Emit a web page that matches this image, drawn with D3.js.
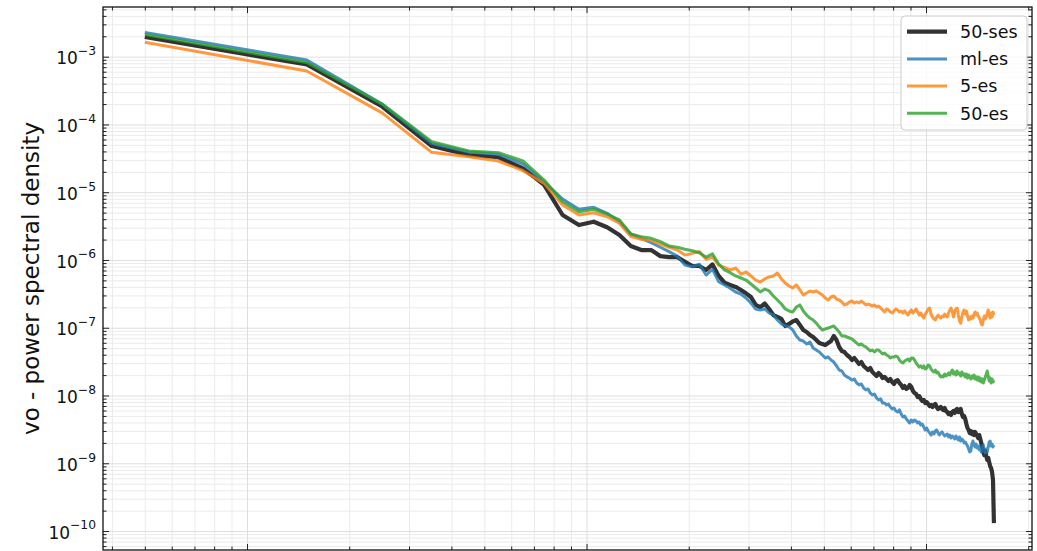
<!DOCTYPE html>
<html>
<head>
<meta charset="utf-8">
<script src="https://cdn.jsdelivr.net/npm/d3@7"></script>
<style>
  body { margin: 0; background: #fff; }
  svg { display: block; font-family: "DejaVu Sans", sans-serif; }
</style>
</head>
<body>
<svg id="chart" width="1037" height="551"></svg>
<script>
// Wavenumber bin centres
const wavenumber = [
  0.5, 1.5, 2.5, 3.5, 4.5, 5.5, 6.5, 7.5, 8.5, 9.5,
  10.5, 11.5, 12.5, 13.5, 14.5, 15.5, 16.5, 17.5, 18.5, 19.5,
  20.5, 21.5, 22.5, 23.5, 24.5, 25.5, 26.5, 27.5, 28.5, 29.5,
  30.5, 31.5, 32.5, 33.5, 34.5, 35.5, 36.5, 37.5, 38.5, 39.5,
  40.5, 41.5, 42.5, 43.5, 44.5, 45.5, 46.5, 47.5, 48.5, 49.5,
  50.5, 51.5, 52.5, 53.5, 54.5, 55.5, 56.5, 57.5, 58.5, 59.5,
  60.5, 61.5, 62.5, 63.5, 64.5, 65.5, 66.5, 67.5, 68.5, 69.5,
  70.5, 71.5, 72.5, 73.5, 74.5, 75.5, 76.5, 77.5, 78.5, 79.5,
  80.5, 81.5, 82.5, 83.5, 84.5, 85.5, 86.5, 87.5, 88.5, 89.5,
  90.5, 91.5, 92.5, 93.5, 94.5, 95.5, 96.5, 97.5, 98.5, 99.5,
  100.5, 101.5, 102.5, 103.5, 104.5, 105.5, 106.5, 107.5, 108.5, 109.5,
  110.5, 111.5, 112.5, 113.5, 114.5, 115.5, 116.5, 117.5, 118.5, 119.5,
  120.5, 121.5, 122.5, 123.5, 124.5, 125.5, 126.5, 127.5, 128.5, 129.5,
  130.5, 131.5, 132.5, 133.5, 134.5, 135.5, 136.5, 137.5, 138.5, 139.5,
  140.5, 141.5, 142.5, 143.5, 144.5, 145.5, 146.5, 147.5, 148.5, 149.5,
  150.5, 151.5, 152.5, 153.5, 154.5, 155.5, 156.5, 157.5, 158.5
];

// Power spectral density of vo, one array per experiment
const psd50ses = [
  1.95e-3, 7.68e-4, 1.84e-4, 4.81e-5, 3.54e-5, 3.28e-5, 2.25e-5, 1.28e-5, 4.61e-6, 3.28e-6,
  3.67e-6, 3.04e-6, 2.34e-6, 1.61e-6, 1.40e-6, 1.40e-6, 1.14e-6, 1.10e-6, 1.10e-6, 9.43e-7,
  8.15e-7, 8.15e-7, 7.12e-7, 8.6e-7, 5.81e-7, 4.62e-7, 4.28e-7, 4.0e-7, 3.61e-7, 3.22e-7,
  2.84e-7, 2.17e-7, 2.02e-7, 2.28e-7, 1.89e-7, 1.54e-7, 1.44e-7, 1.35e-7, 1.06e-7, 1.14e-7,
  1.24e-7, 1.30e-7, 1.10e-7, 9.27e-8, 8.67e-8, 7.82e-8, 7.3e-8, 6.6e-8, 5.95e-8, 5.76e-8,
  5.56e-8, 5.95e-8, 6.37e-8, 7.55e-8, 6.6e-8, 5.2e-8, 4.54e-8, 4.38e-8, 3.96e-8, 3.70e-8,
  3.34e-8, 3.58e-8, 3.23e-8, 2.92e-8, 3.12e-8, 2.73e-8, 2.55e-8, 2.38e-8, 2.55e-8, 2.22e-8,
  2.08e-8, 1.94e-8, 2.15e-8, 2.01e-8, 1.81e-8, 1.88e-8, 1.75e-8, 1.64e-8, 1.75e-8, 1.58e-8,
  1.48e-8, 1.64e-8, 1.69e-8, 1.53e-8, 1.43e-8, 1.29e-8, 1.38e-8, 1.25e-8, 1.29e-8, 1.43e-8,
  1.34e-8, 1.17e-8, 1.09e-8, 1.05e-8, 9.5e-9, 9.8e-9, 8.9e-9, 8.3e-9, 8.6e-9, 7.75e-9,
  8.0e-9, 7.5e-9, 7.0e-9, 7.25e-9, 6.77e-9, 7.25e-9, 7.5e-9, 6.77e-9, 6.33e-9, 6.55e-9,
  6.77e-9, 6.33e-9, 6.12e-9, 6.55e-9, 5.91e-9, 5.71e-9, 5.33e-9, 5.52e-9, 5.16e-9, 5.71e-9,
  5.91e-9, 5.52e-9, 6.12e-9, 6.33e-9, 5.71e-9, 6.12e-9, 6.33e-9, 5.33e-9, 4.82e-9, 4.98e-9,
  4.5e-9, 3.8e-9, 3.31e-9, 3.1e-9, 2.8e-9, 2.99e-9, 2.7e-9, 2.9e-9, 2.61e-9, 2.9e-9,
  2.7e-9, 2.53e-9, 2.36e-9, 2.61e-9, 2.28e-9, 1.99e-9, 1.68e-9, 1.47e-9, 1.32e-9, 1.52e-9,
  1.28e-9, 1.12e-9, 1.2e-9, 1.04e-9, 9.1e-10, 8.5e-10, 7.43e-10, 5.66e-10, 1.31e-10
];

const psdMlEs = [
  2.28e-3, 8.94e-4, 2.0e-4, 5.24e-5, 3.92e-5, 3.63e-5, 2.61e-5, 1.42e-5, 7.94e-6, 5.6e-6,
  6.0e-6, 4.88e-6, 3.67e-6, 2.42e-6, 2.09e-6, 1.80e-6, 1.54e-6, 1.33e-6, 1.14e-6, 8.4e-7,
  7.95e-7, 8.65e-7, 6.0e-7, 7.3e-7, 4.78e-7, 4.28e-7, 3.82e-7, 3.37e-7, 3.15e-7, 2.75e-7,
  2.32e-7, 1.89e-7, 1.83e-7, 1.89e-7, 1.65e-7, 1.54e-7, 1.30e-7, 1.14e-7, 1.06e-7, 1.03e-7,
  9.27e-8, 7.55e-8, 6.6e-8, 6.37e-8, 5.76e-8, 6.16e-8, 5.02e-8, 4.69e-8, 4.38e-8, 3.96e-8,
  3.58e-8, 3.70e-8, 3.34e-8, 3.12e-8, 2.73e-8, 2.38e-8, 2.30e-8, 2.01e-8, 1.88e-8, 1.81e-8,
  1.69e-8, 1.75e-8, 1.53e-8, 1.43e-8, 1.48e-8, 1.29e-8, 1.21e-8, 1.25e-8, 1.09e-8, 1.02e-8,
  1.05e-8, 9.2e-9, 8.6e-9, 8.9e-9, 7.75e-9, 7.75e-9, 7.25e-9, 7.5e-9, 6.77e-9, 6.33e-9,
  6.55e-9, 5.91e-9, 5.71e-9, 6.12e-9, 5.33e-9, 4.82e-9, 4.98e-9, 4.5e-9, 4.21e-9, 3.93e-9,
  4.35e-9, 4.07e-9, 4.35e-9, 4.21e-9, 3.93e-9, 4.07e-9, 3.67e-9, 3.8e-9, 3.43e-9, 3.1e-9,
  3.31e-9, 2.99e-9, 2.8e-9, 2.61e-9, 2.9e-9, 2.7e-9, 2.99e-9, 3.1e-9, 2.8e-9, 2.61e-9,
  2.8e-9, 2.9e-9, 2.7e-9, 2.53e-9, 2.61e-9, 2.7e-9, 2.44e-9, 2.61e-9, 2.36e-9, 2.53e-9,
  2.44e-9, 2.28e-9, 2.53e-9, 2.36e-9, 2.2e-9, 2.44e-9, 2.13e-9, 2.28e-9, 2.2e-9, 1.99e-9,
  2.06e-9, 1.92e-9, 1.80e-9, 1.62e-9, 1.47e-9, 1.52e-9, 1.92e-9, 2.13e-9, 1.86e-9, 1.74e-9,
  1.92e-9, 1.68e-9, 1.80e-9, 1.57e-9, 1.74e-9, 1.47e-9, 1.68e-9, 1.86e-9, 1.57e-9, 1.42e-9,
  1.62e-9, 1.47e-9, 1.74e-9, 2.06e-9, 2.13e-9, 1.80e-9, 1.92e-9, 1.74e-9, 1.86e-9
];

const psd5es = [
  1.63e-3, 6.15e-4, 1.48e-4, 3.88e-5, 3.34e-5, 2.89e-5, 2.08e-5, 1.35e-5, 6.47e-6, 4.61e-6,
  4.98e-6, 4.35e-6, 3.48e-6, 2.21e-6, 2.02e-6, 1.93e-6, 1.72e-6, 1.54e-6, 1.40e-6, 1.18e-6,
  1.25e-6, 1.33e-6, 1.02e-6, 1.10e-6, 8.4e-7, 7.8e-7, 7.12e-7, 7.6e-7, 6.2e-7, 6.64e-7,
  5.81e-7, 5.06e-7, 4.73e-7, 5.25e-7, 5.62e-7, 5.81e-7, 6.42e-7, 5.25e-7, 4.57e-7, 4.13e-7,
  3.86e-7, 4.28e-7, 3.61e-7, 3.04e-7, 3.26e-7, 3.49e-7, 3.37e-7, 3.49e-7, 3.26e-7, 3.04e-7,
  2.75e-7, 2.57e-7, 2.84e-7, 2.94e-7, 2.65e-7, 2.57e-7, 2.40e-7, 2.17e-7, 2.24e-7, 2.40e-7,
  2.48e-7, 2.32e-7, 2.40e-7, 2.32e-7, 2.48e-7, 2.32e-7, 2.17e-7, 2.24e-7, 2.17e-7, 2.09e-7,
  2.17e-7, 2.02e-7, 2.09e-7, 1.95e-7, 1.83e-7, 1.71e-7, 1.89e-7, 1.83e-7, 1.71e-7, 1.65e-7,
  1.77e-7, 1.89e-7, 1.83e-7, 1.71e-7, 1.77e-7, 1.65e-7, 1.77e-7, 1.65e-7, 1.54e-7, 1.71e-7,
  1.83e-7, 1.65e-7, 1.77e-7, 1.89e-7, 1.71e-7, 1.54e-7, 1.65e-7, 1.49e-7, 1.39e-7, 1.59e-7,
  1.71e-7, 1.89e-7, 1.95e-7, 1.59e-7, 1.44e-7, 1.35e-7, 1.30e-7, 1.44e-7, 1.54e-7, 1.44e-7,
  1.39e-7, 1.49e-7, 1.44e-7, 1.59e-7, 1.49e-7, 1.44e-7, 1.65e-7, 1.83e-7, 1.95e-7, 1.71e-7,
  1.44e-7, 1.77e-7, 1.89e-7, 1.95e-7, 1.54e-7, 1.26e-7, 1.17e-7, 1.44e-7, 1.71e-7, 1.83e-7,
  1.59e-7, 1.77e-7, 1.49e-7, 1.30e-7, 1.44e-7, 1.35e-7, 1.49e-7, 1.39e-7, 1.59e-7, 1.71e-7,
  1.54e-7, 1.65e-7, 1.49e-7, 1.39e-7, 1.30e-7, 1.14e-7, 1.10e-7, 1.30e-7, 1.49e-7, 1.35e-7,
  1.44e-7, 1.65e-7, 1.83e-7, 1.54e-7, 1.39e-7, 1.65e-7, 1.44e-7, 1.71e-7, 1.54e-7
];

const psd50es = [
  2.13e-3, 8.2e-4, 2.0e-4, 5.57e-5, 4.06e-5, 3.83e-5, 2.89e-5, 1.51e-5, 7.25e-6, 5.16e-6,
  5.6e-6, 4.77e-6, 3.9e-6, 2.42e-6, 2.21e-6, 2.09e-6, 1.86e-6, 1.61e-6, 1.54e-6, 1.44e-6,
  1.37e-6, 1.28e-6, 1.10e-6, 1.23e-6, 8.73e-7, 7.12e-7, 6.49e-7, 5.81e-7, 5.42e-7, 5.06e-7,
  4.42e-7, 3.86e-7, 3.37e-7, 3.73e-7, 3.49e-7, 2.94e-7, 2.57e-7, 2.24e-7, 1.89e-7, 1.77e-7,
  1.71e-7, 2.02e-7, 2.17e-7, 1.77e-7, 1.54e-7, 1.39e-7, 1.30e-7, 1.17e-7, 1.03e-7, 9.27e-8,
  9.6e-8, 9.9e-8, 1.03e-7, 1.06e-7, 9.6e-8, 8.67e-8, 7.55e-8, 7.55e-8, 7.30e-8, 7.06e-8,
  6.83e-8, 6.37e-8, 5.95e-8, 5.56e-8, 5.76e-8, 5.38e-8, 5.2e-8, 4.86e-8, 4.54e-8, 4.69e-8,
  4.38e-8, 4.69e-8, 4.69e-8, 4.38e-8, 4.1e-8, 4.24e-8, 3.96e-8, 3.83e-8, 3.58e-8, 3.70e-8,
  3.70e-8, 3.83e-8, 3.70e-8, 3.34e-8, 3.12e-8, 3.02e-8, 3.23e-8, 3.34e-8, 3.46e-8, 3.23e-8,
  3.58e-8, 3.58e-8, 3.34e-8, 3.02e-8, 2.82e-8, 2.63e-8, 2.73e-8, 2.55e-8, 2.73e-8, 2.46e-8,
  2.55e-8, 2.82e-8, 2.73e-8, 2.46e-8, 2.30e-8, 2.22e-8, 2.38e-8, 2.15e-8, 2.22e-8, 2.01e-8,
  1.88e-8, 1.94e-8, 1.88e-8, 2.08e-8, 1.94e-8, 2.01e-8, 2.15e-8, 2.01e-8, 2.22e-8, 2.38e-8,
  2.08e-8, 2.22e-8, 2.01e-8, 2.30e-8, 2.08e-8, 2.15e-8, 1.94e-8, 2.22e-8, 2.01e-8, 2.08e-8,
  1.88e-8, 2.08e-8, 1.81e-8, 2.01e-8, 1.88e-8, 1.75e-8, 1.94e-8, 1.81e-8, 2.01e-8, 1.75e-8,
  1.88e-8, 1.69e-8, 1.88e-8, 1.64e-8, 1.81e-8, 1.58e-8, 1.75e-8, 1.53e-8, 1.69e-8, 1.88e-8,
  2.08e-8, 2.30e-8, 1.94e-8, 1.64e-8, 1.81e-8, 1.53e-8, 1.75e-8, 1.58e-8, 1.69e-8
];

const seriesNames = ["50-ses", "ml-es", "5-es", "50-es"];
const seriesValues = [psd50ses, psdMlEs, psd5es, psd50es];

// Axis ticks and labels
const xMajorTicks = [1, 10, 100];
const yMajorTicks = [1e-10, 1e-9, 1e-8, 1e-7, 1e-6, 1e-5, 1e-4, 1e-3];
const yTickExponents = ["\u221210", "\u22129", "\u22128", "\u22127", "\u22126", "\u22125", "\u22124", "\u22123"];
const minorMultiples = [2, 3, 4, 5, 6, 7, 8, 9];
const yAxisLabel = "vo - power spectral density";

// ---- layout & styles ----
const plot = { left: 103, right: 1032, top: 7, bottom: 550 };
const lineStyles = [
  { color: "#000000", width: 4.2 },
  { color: "#1f77b4", width: 3.0 },
  { color: "#ff7f0e", width: 3.0 },
  { color: "#2ca02c", width: 3.0 }
];

const svg = d3.select("#chart");

const x = d3.scaleLog().domain([0.3765, 205.2]).range([plot.left, plot.right]);
const y = d3.scaleLog().domain([5.25e-11, 5.41e-3]).range([plot.bottom, plot.top]);

// minor tick positions (log decades)
function minorTicks(scale, decades) {
  const [d0, d1] = scale.domain();
  const out = [];
  decades.forEach(base => minorMultiples.forEach(m => {
    const v = m * base;
    if (v >= d0 && v <= d1) out.push(v);
  }));
  return out;
}
const xMinor = minorTicks(x, [0.1, 1, 10, 100]);
const yMinor = minorTicks(y, [1e-11, 1e-10, 1e-9, 1e-8, 1e-7, 1e-6, 1e-5, 1e-4, 1e-3]);

const plotW = plot.right - plot.left;
const plotH = plot.bottom - plot.top;

// ---- grid ----
const grid = svg.append("g").attr("class", "grid");
function gridLayer(axis, transform, color) {
  const g = grid.append("g").attr("transform", transform).call(axis);
  g.select(".domain").remove();
  g.selectAll("line").attr("stroke", color).attr("stroke-width", 1);
  g.selectAll("text").remove();
}
gridLayer(d3.axisBottom(x).tickValues(xMinor).tickSize(-plotH).tickFormat(""), `translate(0,${plot.bottom})`, "#ebebeb");
gridLayer(d3.axisLeft(y).tickValues(yMinor).tickSize(-plotW).tickFormat(""), `translate(${plot.left},0)`, "#ebebeb");
gridLayer(d3.axisBottom(x).tickValues(xMajorTicks).tickSize(-plotH).tickFormat(""), `translate(0,${plot.bottom})`, "#dedede");
gridLayer(d3.axisLeft(y).tickValues(yMajorTicks).tickSize(-plotW).tickFormat(""), `translate(${plot.left},0)`, "#dedede");

// ---- lines ----
svg.append("clipPath").attr("id", "plot-clip")
  .append("rect").attr("x", plot.left).attr("y", plot.top).attr("width", plotW).attr("height", plotH);

const line = d3.line()
  .x(d => x(d[0]))
  .y(d => y(d[1]));

const lines = svg.append("g").attr("clip-path", "url(#plot-clip)");
seriesValues.forEach((vals, i) => {
  lines.append("path")
    .datum(wavenumber.map((k, j) => [k, vals[j]]))
    .attr("fill", "none")
    .attr("stroke", lineStyles[i].color)
    .attr("stroke-opacity", 0.8)
    .attr("stroke-width", lineStyles[i].width)
    .attr("stroke-linejoin", "round")
    .attr("stroke-linecap", "butt")
    .attr("d", line);
});

// ---- ticks (inward, all four sides) ----
const ticks = svg.append("g").attr("class", "ticks");
function tickLayer(axis, transform) {
  const g = ticks.append("g").attr("transform", transform).call(axis);
  g.select(".domain").remove();
  g.selectAll("line").attr("stroke", "#222").attr("stroke-width", 1);
  return g;
}
const MAJ = 6, MIN = 3.5;
// left
const left = tickLayer(
  d3.axisLeft(y).tickValues(yMajorTicks).tickSize(-MAJ).tickPadding(7),
  `translate(${plot.left},0)`);
tickLayer(d3.axisLeft(y).tickValues(yMinor).tickSize(-MIN).tickFormat(""), `translate(${plot.left},0)`);
// right
tickLayer(d3.axisRight(y).tickValues(yMajorTicks).tickSize(-MAJ).tickFormat(""), `translate(${plot.right},0)`);
tickLayer(d3.axisRight(y).tickValues(yMinor).tickSize(-MIN).tickFormat(""), `translate(${plot.right},0)`);
// top
tickLayer(d3.axisTop(x).tickValues(xMajorTicks).tickSize(-MAJ).tickFormat(""), `translate(0,${plot.top})`);
tickLayer(d3.axisTop(x).tickValues(xMinor).tickSize(-MIN).tickFormat(""), `translate(0,${plot.top})`);
// bottom
tickLayer(d3.axisBottom(x).tickValues(xMajorTicks).tickSize(-MAJ).tickFormat(""), `translate(0,${plot.bottom})`);
tickLayer(d3.axisBottom(x).tickValues(xMinor).tickSize(-MIN).tickFormat(""), `translate(0,${plot.bottom})`);

// y tick labels as 10^n with superscript exponent
left.selectAll(".tick text").each(function (d) {
  const idx = yMajorTicks.indexOf(d);
  const t = d3.select(this)
    .attr("font-family", "DejaVu Sans, sans-serif")
    .attr("font-size", 17)
    .attr("fill", "#111")
    .attr("dy", "0.42em")
    .text(null);
  t.append("tspan").text("10");
  t.append("tspan").attr("font-size", 12.3).attr("dy", "-0.75em").text(yTickExponents[idx]);
});

// ---- frame ----
svg.append("rect")
  .attr("x", plot.left).attr("y", plot.top)
  .attr("width", plotW).attr("height", plotH)
  .attr("fill", "none").attr("stroke", "#111").attr("stroke-width", 1.3);

// ---- y label ----
svg.append("text")
  .attr("transform", `translate(39,${(plot.top + plot.bottom) / 2}) rotate(-90)`)
  .attr("text-anchor", "middle")
  .attr("font-size", 23)
  .attr("fill", "#111")
  .text(yAxisLabel);

// ---- legend ----
const legend = svg.append("g").attr("transform", "translate(901,16)");
legend.append("rect")
  .attr("width", 126).attr("height", 114).attr("rx", 4)
  .attr("fill", "#fff").attr("fill-opacity", 0.8)
  .attr("stroke", "#cccccc").attr("stroke-width", 1);
seriesNames.forEach((name, i) => {
  const cy = 15.7 + i * 27.2;
  legend.append("line")
    .attr("x1", 6).attr("x2", 46).attr("y1", cy).attr("y2", cy)
    .attr("stroke", lineStyles[i].color).attr("stroke-opacity", 0.8)
    .attr("stroke-width", lineStyles[i].width);
  legend.append("text")
    .attr("x", 59).attr("y", cy).attr("dy", "0.36em")
    .attr("font-size", 17.5).attr("fill", "#111")
    .text(name);
});
</script>
</body>
</html>
